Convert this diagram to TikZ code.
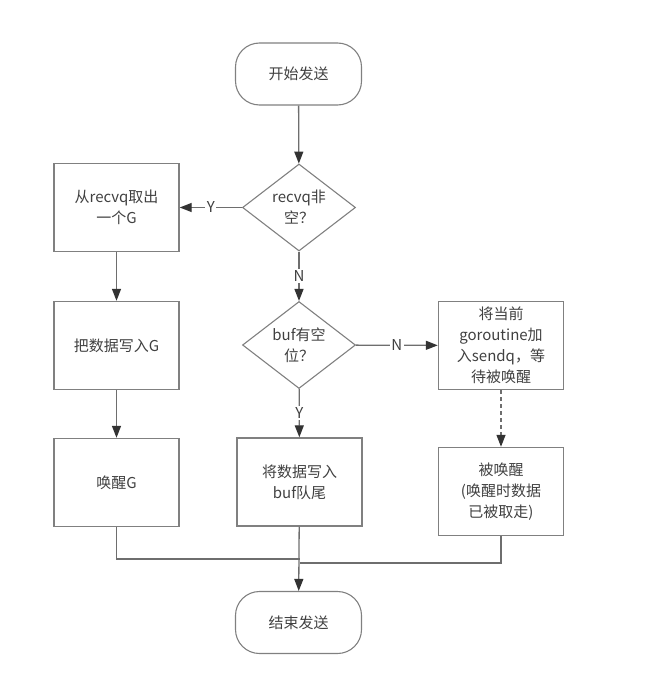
\documentclass[tikz,border=0pt]{standalone}
\usepackage{fontspec}
\setmainfont{Noto Sans CJK SC}
\usetikzlibrary{shapes.geometric,arrows.meta}
\definecolor{bordc}{HTML}{808080}
\definecolor{linec}{HTML}{6E6E6E}
\definecolor{txtc}{HTML}{404040}
\definecolor{tipc}{HTML}{333333}
\tikzset{
  every node/.style={font=\fontsize{15}{21}\selectfont, text=txtc},
  procbox/.style={draw=bordc, line width=1.4pt, rectangle, minimum width=125pt, minimum height=88pt, align=center, inner sep=0pt},
  termbox/.style={draw=bordc, line width=1.1pt, rectangle, rounded corners=24pt, minimum width=126pt, minimum height=62pt, align=center},
  decbox/.style={draw=bordc, line width=1.1pt, diamond, aspect=1.3, minimum width=113pt, minimum height=87pt, inner sep=0pt, align=center},
  conn/.style={draw=linec, line width=1.3pt, -{Triangle[length=12pt,width=9pt,color=tipc]}},
  plainconn/.style={draw=linec, line width=1.3pt},
  lbl/.style={fill=white, inner sep=1.5pt, font=\fontsize{15}{15}\selectfont}
}
\begin{document}
\begin{tikzpicture}[x=1pt,y=-1pt]
\useasboundingbox (0,0) rectangle (651,698);
\node[termbox] (start) at (298.5,74) {开始发送};
\node[decbox] (d1) at (299,207.5) {recvq非\\空？};
\node[procbox] (b1) at (116.5,207.5) {从recvq取出\\一个G};
\node[decbox] (d2) at (299,345) {buf有空\\位？};
\node[procbox] (b2) at (116.5,345.5) {把数据写入G};
\node[procbox] (b3) at (501,345.5) {将当前\\goroutine加\\入sendq，等\\待被唤醒};
\node[procbox] (b4) at (116.5,482.5) {唤醒G};
\node[procbox] (b5) at (299.5,482) {将数据写入\\buf队尾};
\node[procbox] (b6) at (501,491.5) {被唤醒\\(唤醒时数据\\已被取走)};
\node[termbox] (end) at (298.5,622.5) {结束发送};
\coordinate (m1) at (116.5,559);
\coordinate (m2) at (501,563);
\coordinate (m1e) at (299.5,559);
\coordinate (m2e) at (299.5,563);

\draw[conn] (start) -- (d1);
\draw[conn] (d1) -- node[lbl] {Y} (b1);
\draw[conn] (d1) -- node[lbl] {N} (d2);
\draw[conn] (d2) -- node[lbl] {N} (b3);
\draw[conn] (d2) -- node[lbl] {Y} (b5);
\draw[conn] (b1) -- (b2);
\draw[conn] (b2) -- (b4);
\draw[conn, dashed, dash pattern=on 4pt off 3pt] (b3) -- (b6);
\draw[plainconn] (b4.south) -- (m1) -- (m1e);
\draw[plainconn] (b6.south) -- (m2) -- (m2e);
\draw[conn] (b5) -- (end);
\end{tikzpicture}
\end{document}
